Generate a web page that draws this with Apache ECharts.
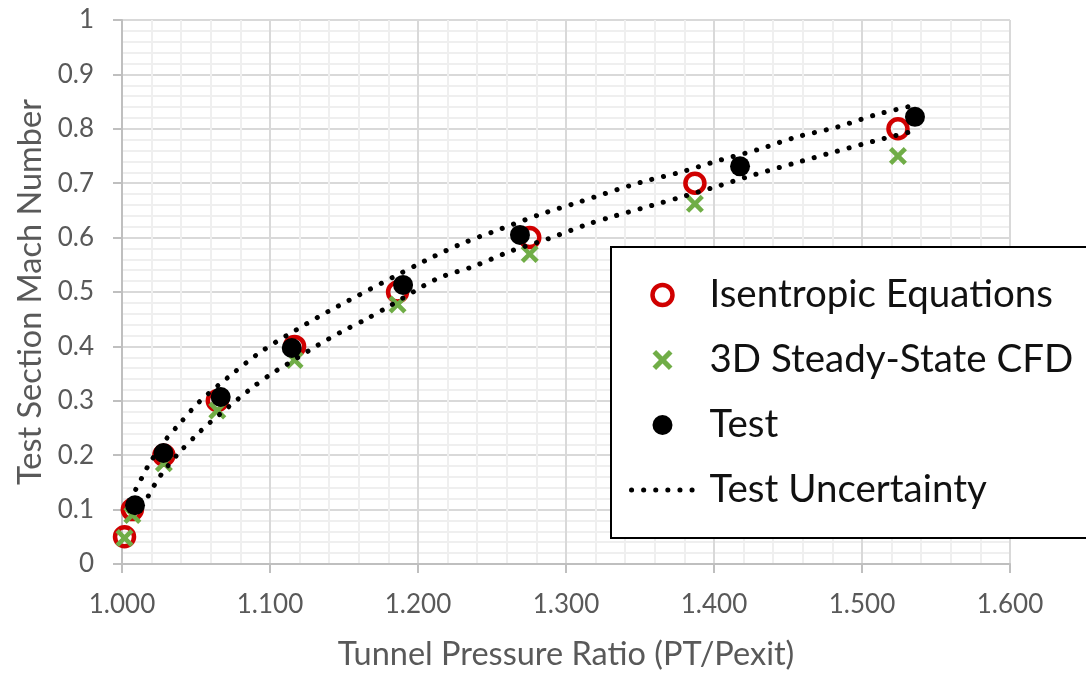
<!DOCTYPE html>
<html>
<head>
<meta charset="utf-8">
<script src="https://cdn.jsdelivr.net/npm/echarts@6/dist/echarts.min.js"></script>
<style>
html,body{margin:0;padding:0;background:#fff;}
#chart{width:1086px;height:677px;}
</style>
</head>
<body>
<div id="chart"></div>
<script>
// ---- data ----
const isenX = [1.0017, 1.0070, 1.0283, 1.0644, 1.1166, 1.1862, 1.2755, 1.3871, 1.5243];
const isenY = [0.05, 0.10, 0.20, 0.30, 0.40, 0.50, 0.60, 0.70, 0.80];
const cfdX  = [1.0017, 1.0070, 1.0283, 1.0644, 1.1166, 1.1862, 1.2755, 1.3871, 1.5243];
const cfdY  = [0.048, 0.090, 0.185, 0.282, 0.375, 0.477, 0.570, 0.662, 0.750];
const testX = [1.0088, 1.0280, 1.0667, 1.1147, 1.1899, 1.2689, 1.4176, 1.5358];
const testY = [0.108, 0.204, 0.307, 0.397, 0.513, 0.605, 0.731, 0.822];
const upperX = [1.0093, 1.0133, 1.0178, 1.0279, 1.0396, 1.0520, 1.0725, 1.0943, 1.1169, 1.1405, 1.2059, 1.2306, 1.2560, 1.2819, 1.3072, 1.3510, 1.3770, 1.4036, 1.4299, 1.4559, 1.4829, 1.5095, 1.5351];
const upperY = [0.137, 0.158, 0.181, 0.223, 0.260, 0.2975, 0.345, 0.391, 0.429, 0.466, 0.559, 0.590, 0.616, 0.642, 0.664, 0.702, 0.720, 0.742, 0.762, 0.785, 0.803, 0.826, 0.843];
const lowerX = [1.0178, 1.0223, 1.0272, 1.0387, 1.0516, 1.0584, 1.0865, 1.1011, 1.1090, 1.1322, 1.1477, 1.1642, 1.1800, 1.2126, 1.2374, 1.2626, 1.2892, 1.3140, 1.3320, 1.3579, 1.3759, 1.4018, 1.4277, 1.4547, 1.4806, 1.5076, 1.5336];
const lowerY = [0.125, 0.147, 0.167, 0.205, 0.2405, 0.2576, 0.321, 0.350, 0.363, 0.402, 0.426, 0.449, 0.473, 0.524, 0.547, 0.575, 0.599, 0.624, 0.639, 0.659, 0.673, 0.694, 0.716, 0.737, 0.757, 0.777, 0.795];
const seriesNames = ['Isentropic Equations', '3D Steady-State CFD', 'Test', 'Test Uncertainty'];
const xTitle = 'Tunnel Pressure Ratio (PT/Pexit)';
const yTitle = 'Test Section Mach Number';

const zip = (a, b) => a.map((v, i) => [v, b[i]]);
const FONT = 'Lato';
const GRAY = '#595959';
const RED = '#D00000';
const GREEN = '#70AD47';
const crossPath = 'path://M3.6,0 L10,6.4 L16.4,0 L20,3.6 L13.6,10 L20,16.4 L16.4,20 L10,13.6 L3.6,20 L0,16.4 L6.4,10 L0,3.6 Z';
const dotLine = { color: '#000', width: 5, type: [0.1, 12], cap: 'round' };

const chart = echarts.init(document.getElementById('chart'), null, { renderer: 'canvas' });
chart.setOption({
  animation: false,
  backgroundColor: '#fff',
  grid: { left: 122, right: 76, top: 20, bottom: 113, containLabel: false },
  xAxis: {
    type: 'value', min: 1.0, max: 1.6, interval: 0.1,
    name: xTitle, nameLocation: 'middle', nameGap: 74,
    nameTextStyle: { fontFamily: FONT, fontSize: 32.5, color: GRAY },
    axisLine: { show: true, onZero: false, lineStyle: { color: '#BFBFBF', width: 2 } },
    axisTick: { show: true, inside: false, length: 9, lineStyle: { color: '#BFBFBF', width: 2 } },
    axisLabel: { fontFamily: FONT, fontSize: 26, color: GRAY, margin: 28, formatter: v => v.toFixed(3) },
    splitLine: { show: true, lineStyle: { color: '#D9D9D9', width: 2 } },
    minorTick: { show: false, splitNumber: 5 },
    minorSplitLine: { show: true, lineStyle: { color: '#EFEFEF', width: 2 } }
  },
  yAxis: {
    type: 'value', min: 0, max: 1, interval: 0.1,
    name: yTitle, nameLocation: 'middle', nameGap: 74,
    nameTextStyle: { fontFamily: FONT, fontSize: 32.5, color: GRAY },
    axisLine: { show: true, onZero: false, lineStyle: { color: '#BFBFBF', width: 2 } },
    axisTick: { show: true, inside: false, length: 9, lineStyle: { color: '#BFBFBF', width: 2 } },
    axisLabel: { fontFamily: FONT, fontSize: 26, color: GRAY, margin: 28 },
    splitLine: { show: true, lineStyle: { color: '#D9D9D9', width: 2 } },
    minorTick: { show: false, splitNumber: 5 },
    minorSplitLine: { show: true, lineStyle: { color: '#EFEFEF', width: 2 } }
  },
  legend: {
    orient: 'vertical', left: 611, top: 247,
    backgroundColor: '#fff', borderColor: '#000', borderWidth: 2,
    padding: [28, 80, 28, 18],
    itemWidth: 62, itemHeight: 20, itemGap: 25,
    symbolKeepAspect: true,
    textStyle: { fontFamily: FONT, fontSize: 38.5, color: '#111', lineHeight: 40, padding: [0, 0, 0, 11] },
    data: [
      { name: seriesNames[0], icon: 'circle', itemStyle: { color: 'rgba(0,0,0,0)', borderColor: RED, borderWidth: 4.5 } },
      { name: seriesNames[1], icon: crossPath, itemStyle: { color: GREEN, borderWidth: 0 } },
      { name: seriesNames[2], icon: 'circle', itemStyle: { color: '#000', borderWidth: 0 } },
      { name: seriesNames[3], itemStyle: { color: 'rgba(0,0,0,0)', borderWidth: 0, opacity: 0 }, lineStyle: dotLine }
    ]
  },
  series: [
    {
      name: seriesNames[0], type: 'scatter', data: zip(isenX, isenY),
      symbol: 'circle', symbolSize: 19, z: 2,
      itemStyle: { color: 'rgba(0,0,0,0)', borderColor: RED, borderWidth: 4.5, opacity: 1 }
    },
    {
      name: seriesNames[1], type: 'scatter', data: zip(cfdX, cfdY),
      symbol: crossPath, symbolSize: 18, z: 3,
      itemStyle: { color: GREEN, opacity: 1 }
    },
    {
      name: seriesNames[2], type: 'scatter', data: zip(testX, testY),
      symbol: 'circle', symbolSize: 20, z: 4,
      itemStyle: { color: '#000', opacity: 1 }
    },
    {
      name: seriesNames[3], type: 'line', data: zip(upperX, upperY),
      symbol: 'none', smooth: 0.3, z: 5, lineStyle: dotLine, itemStyle: { color: '#000' }
    },
    {
      name: seriesNames[3], type: 'line', data: zip(lowerX, lowerY),
      symbol: 'none', smooth: 0.3, z: 5, lineStyle: dotLine, itemStyle: { color: '#000' }
    }
  ]
});
</script>
</body>
</html>
